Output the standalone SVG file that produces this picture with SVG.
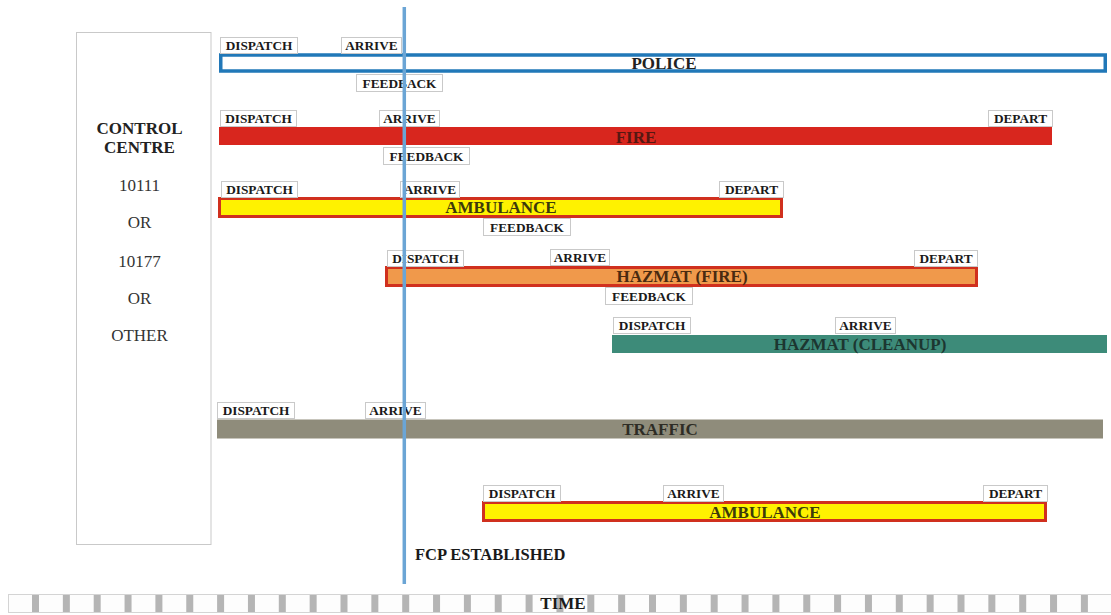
<svg xmlns="http://www.w3.org/2000/svg" width="1111" height="615" viewBox="0 0 1111 615">
<style>
.lb{fill:#fff;stroke:#c9c9c9;stroke-width:1}
.lt{font-family:"Liberation Serif","Times New Roman",serif;font-weight:bold;font-size:13.3px;fill:#1a1a1a;text-anchor:middle}
.bt{font-family:"Liberation Serif","Times New Roman",serif;font-weight:bold;font-size:17px;text-anchor:middle}
.cc{font-family:"Liberation Serif","Times New Roman",serif;font-size:17px;fill:#333;text-anchor:middle}
.ccb{font-weight:bold;fill:#222}
.stripe{fill:#b5b5b5}
</style>
<rect x="0" y="0" width="1111" height="615" fill="#fff"/>

<g id="control-centre">
<rect x="76.5" y="32.5" width="134.5" height="512" fill="#fff" stroke="#c9c9c9" stroke-width="1"/>
<text class="cc ccb" x="139.5" y="134">CONTROL</text>
<text class="cc ccb" x="139.5" y="153">CENTRE</text>
<text class="cc" x="139.5" y="191">10111</text>
<text class="cc" x="139.5" y="228">OR</text>
<text class="cc" x="139.5" y="267">10177</text>
<text class="cc" x="139.5" y="304">OR</text>
<text class="cc" x="139.5" y="341">OTHER</text>
</g>

<g id="police">
<rect x="220.75" y="55" width="884.5" height="16" fill="#fff" stroke="#2178b8" stroke-width="3.5"/>
<text class="bt" x="664" y="69" fill="#222">POLICE</text>
<rect class="lb" x="220.5" y="37.5" width="77" height="16"/><text class="lt" x="259" y="50">DISPATCH</text>
<rect class="lb" x="341.5" y="37.5" width="60" height="16"/><text class="lt" x="371.5" y="50">ARRIVE</text>
<rect class="lb" x="356.5" y="74.5" width="86" height="17"/><text class="lt" x="399.5" y="87.5">FEEDBACK</text>
</g>

<g id="fire">
<rect x="219" y="127" width="833" height="18" fill="#d8261e"/>
<text class="bt" x="636" y="142.5" fill="#561812">FIRE</text>
<rect class="lb" x="220.5" y="110.5" width="76" height="16"/><text class="lt" x="258.5" y="123">DISPATCH</text>
<rect class="lb" x="379.5" y="110.5" width="60" height="16"/><text class="lt" x="409.5" y="123">ARRIVE</text>
<rect class="lb" x="988.5" y="110.5" width="64" height="16"/><text class="lt" x="1020.5" y="123">DEPART</text>
<rect class="lb" x="383.5" y="147.5" width="86" height="17"/><text class="lt" x="426.5" y="160.5">FEEDBACK</text>
</g>

<g id="ambulance-1">
<rect x="219.5" y="198.5" width="562" height="18" fill="#fff200" stroke="#d0301e" stroke-width="3"/>
<text class="bt" x="501" y="213" fill="#3d3a0a">AMBULANCE</text>
<rect class="lb" x="221.5" y="181.5" width="76" height="16"/><text class="lt" x="259.5" y="194">DISPATCH</text>
<rect class="lb" x="400.5" y="181.5" width="59" height="16"/><text class="lt" x="430" y="194">ARRIVE</text>
<rect class="lb" x="719.5" y="181.5" width="64" height="16"/><text class="lt" x="751.5" y="194">DEPART</text>
<rect class="lb" x="483.5" y="218.5" width="87" height="17"/><text class="lt" x="527" y="231.5">FEEDBACK</text>
</g>

<g id="hazmat-fire">
<rect x="386.5" y="267.5" width="590" height="18" fill="#f0994b" stroke="#d0301e" stroke-width="3"/>
<text class="bt" x="682" y="281.5" fill="#4a2a10">HAZMAT (FIRE)</text>
<rect class="lb" x="387.5" y="250.5" width="76" height="16"/><text class="lt" x="425.5" y="263">DISPATCH</text>
<rect class="lb" x="550.5" y="249.5" width="59" height="16"/><text class="lt" x="580" y="262">ARRIVE</text>
<rect class="lb" x="914.5" y="250.5" width="63" height="16"/><text class="lt" x="946" y="263">DEPART</text>
<rect class="lb" x="605.5" y="287.5" width="87" height="17"/><text class="lt" x="649" y="300.5">FEEDBACK</text>
</g>

<g id="hazmat-cleanup">
<rect x="612" y="335" width="495" height="18" fill="#3d8b79"/>
<text class="bt" x="860" y="349.5" fill="#1c3630">HAZMAT (CLEANUP)</text>
<rect class="lb" x="613.5" y="317.5" width="77" height="16"/><text class="lt" x="652" y="330">DISPATCH</text>
<rect class="lb" x="835.5" y="317.5" width="60" height="16"/><text class="lt" x="865.5" y="330">ARRIVE</text>
</g>

<g id="traffic">
<rect x="217" y="419.5" width="886" height="19" fill="#8f8c7b"/>
<text class="bt" x="660" y="435" fill="#2e2c25">TRAFFIC</text>
<rect class="lb" x="217.5" y="402.5" width="77" height="16"/><text class="lt" x="256" y="415">DISPATCH</text>
<rect class="lb" x="365.5" y="402.5" width="60" height="16"/><text class="lt" x="395.5" y="415">ARRIVE</text>
</g>

<g id="ambulance-2">
<rect x="483.5" y="502.5" width="562" height="18" fill="#fff200" stroke="#d0301e" stroke-width="3"/>
<text class="bt" x="765" y="518" fill="#3d3a0a">AMBULANCE</text>
<rect class="lb" x="483.5" y="485.5" width="77" height="16"/><text class="lt" x="522" y="498">DISPATCH</text>
<rect class="lb" x="663.5" y="485.5" width="60" height="16"/><text class="lt" x="693.5" y="498">ARRIVE</text>
<rect class="lb" x="983.5" y="485.5" width="64" height="16"/><text class="lt" x="1015.5" y="498">DEPART</text>
</g>

<g id="connectors">
<line x1="404.3" y1="7" x2="404.3" y2="584" stroke="#6ba5d5" stroke-width="3.5"/>
</g>

<g id="fcp-label">
<text x="415" y="560" font-family="Liberation Serif, Times New Roman, serif" font-weight="bold" font-size="16.5" fill="#1a1a1a">FCP ESTABLISHED</text>
</g>

<g id="time-axis">
<rect x="8.5" y="594.5" width="1103" height="18" fill="#fdfdfd" stroke="#d4d4d4" stroke-width="1"/>
<rect class="stripe" x="32" y="595" width="7" height="17"/>
<rect class="stripe" x="62.85" y="595" width="7" height="17"/>
<rect class="stripe" x="93.7" y="595" width="7" height="17"/>
<rect class="stripe" x="124.55" y="595" width="7" height="17"/>
<rect class="stripe" x="155.4" y="595" width="7" height="17"/>
<rect class="stripe" x="186.25" y="595" width="7" height="17"/>
<rect class="stripe" x="217.1" y="595" width="7" height="17"/>
<rect class="stripe" x="247.95" y="595" width="7" height="17"/>
<rect class="stripe" x="278.8" y="595" width="7" height="17"/>
<rect class="stripe" x="309.65" y="595" width="7" height="17"/>
<rect class="stripe" x="340.5" y="595" width="7" height="17"/>
<rect class="stripe" x="371.35" y="595" width="7" height="17"/>
<rect class="stripe" x="402.2" y="595" width="7" height="17"/>
<rect class="stripe" x="433.05" y="595" width="7" height="17"/>
<rect class="stripe" x="463.9" y="595" width="7" height="17"/>
<rect class="stripe" x="494.75" y="595" width="7" height="17"/>
<rect class="stripe" x="525.6" y="595" width="7" height="17"/>
<rect class="stripe" x="556.45" y="595" width="7" height="17"/>
<rect class="stripe" x="587.3" y="595" width="7" height="17"/>
<rect class="stripe" x="618.15" y="595" width="7" height="17"/>
<rect class="stripe" x="649" y="595" width="7" height="17"/>
<rect class="stripe" x="679.85" y="595" width="7" height="17"/>
<rect class="stripe" x="710.7" y="595" width="7" height="17"/>
<rect class="stripe" x="741.55" y="595" width="7" height="17"/>
<rect class="stripe" x="772.4" y="595" width="7" height="17"/>
<rect class="stripe" x="803.25" y="595" width="7" height="17"/>
<rect class="stripe" x="834.1" y="595" width="7" height="17"/>
<rect class="stripe" x="864.95" y="595" width="7" height="17"/>
<rect class="stripe" x="895.8" y="595" width="7" height="17"/>
<rect class="stripe" x="926.65" y="595" width="7" height="17"/>
<rect class="stripe" x="957.5" y="595" width="7" height="17"/>
<rect class="stripe" x="988.35" y="595" width="7" height="17"/>
<rect class="stripe" x="1019.2" y="595" width="7" height="17"/>
<rect class="stripe" x="1050.05" y="595" width="7" height="17"/>
<rect class="stripe" x="1080.9" y="595" width="7" height="17"/>
<text x="563" y="609" text-anchor="middle" font-family="Liberation Serif, Times New Roman, serif" font-weight="bold" font-size="17" fill="#1a1a1a">TIME</text>
</g>
</svg>
